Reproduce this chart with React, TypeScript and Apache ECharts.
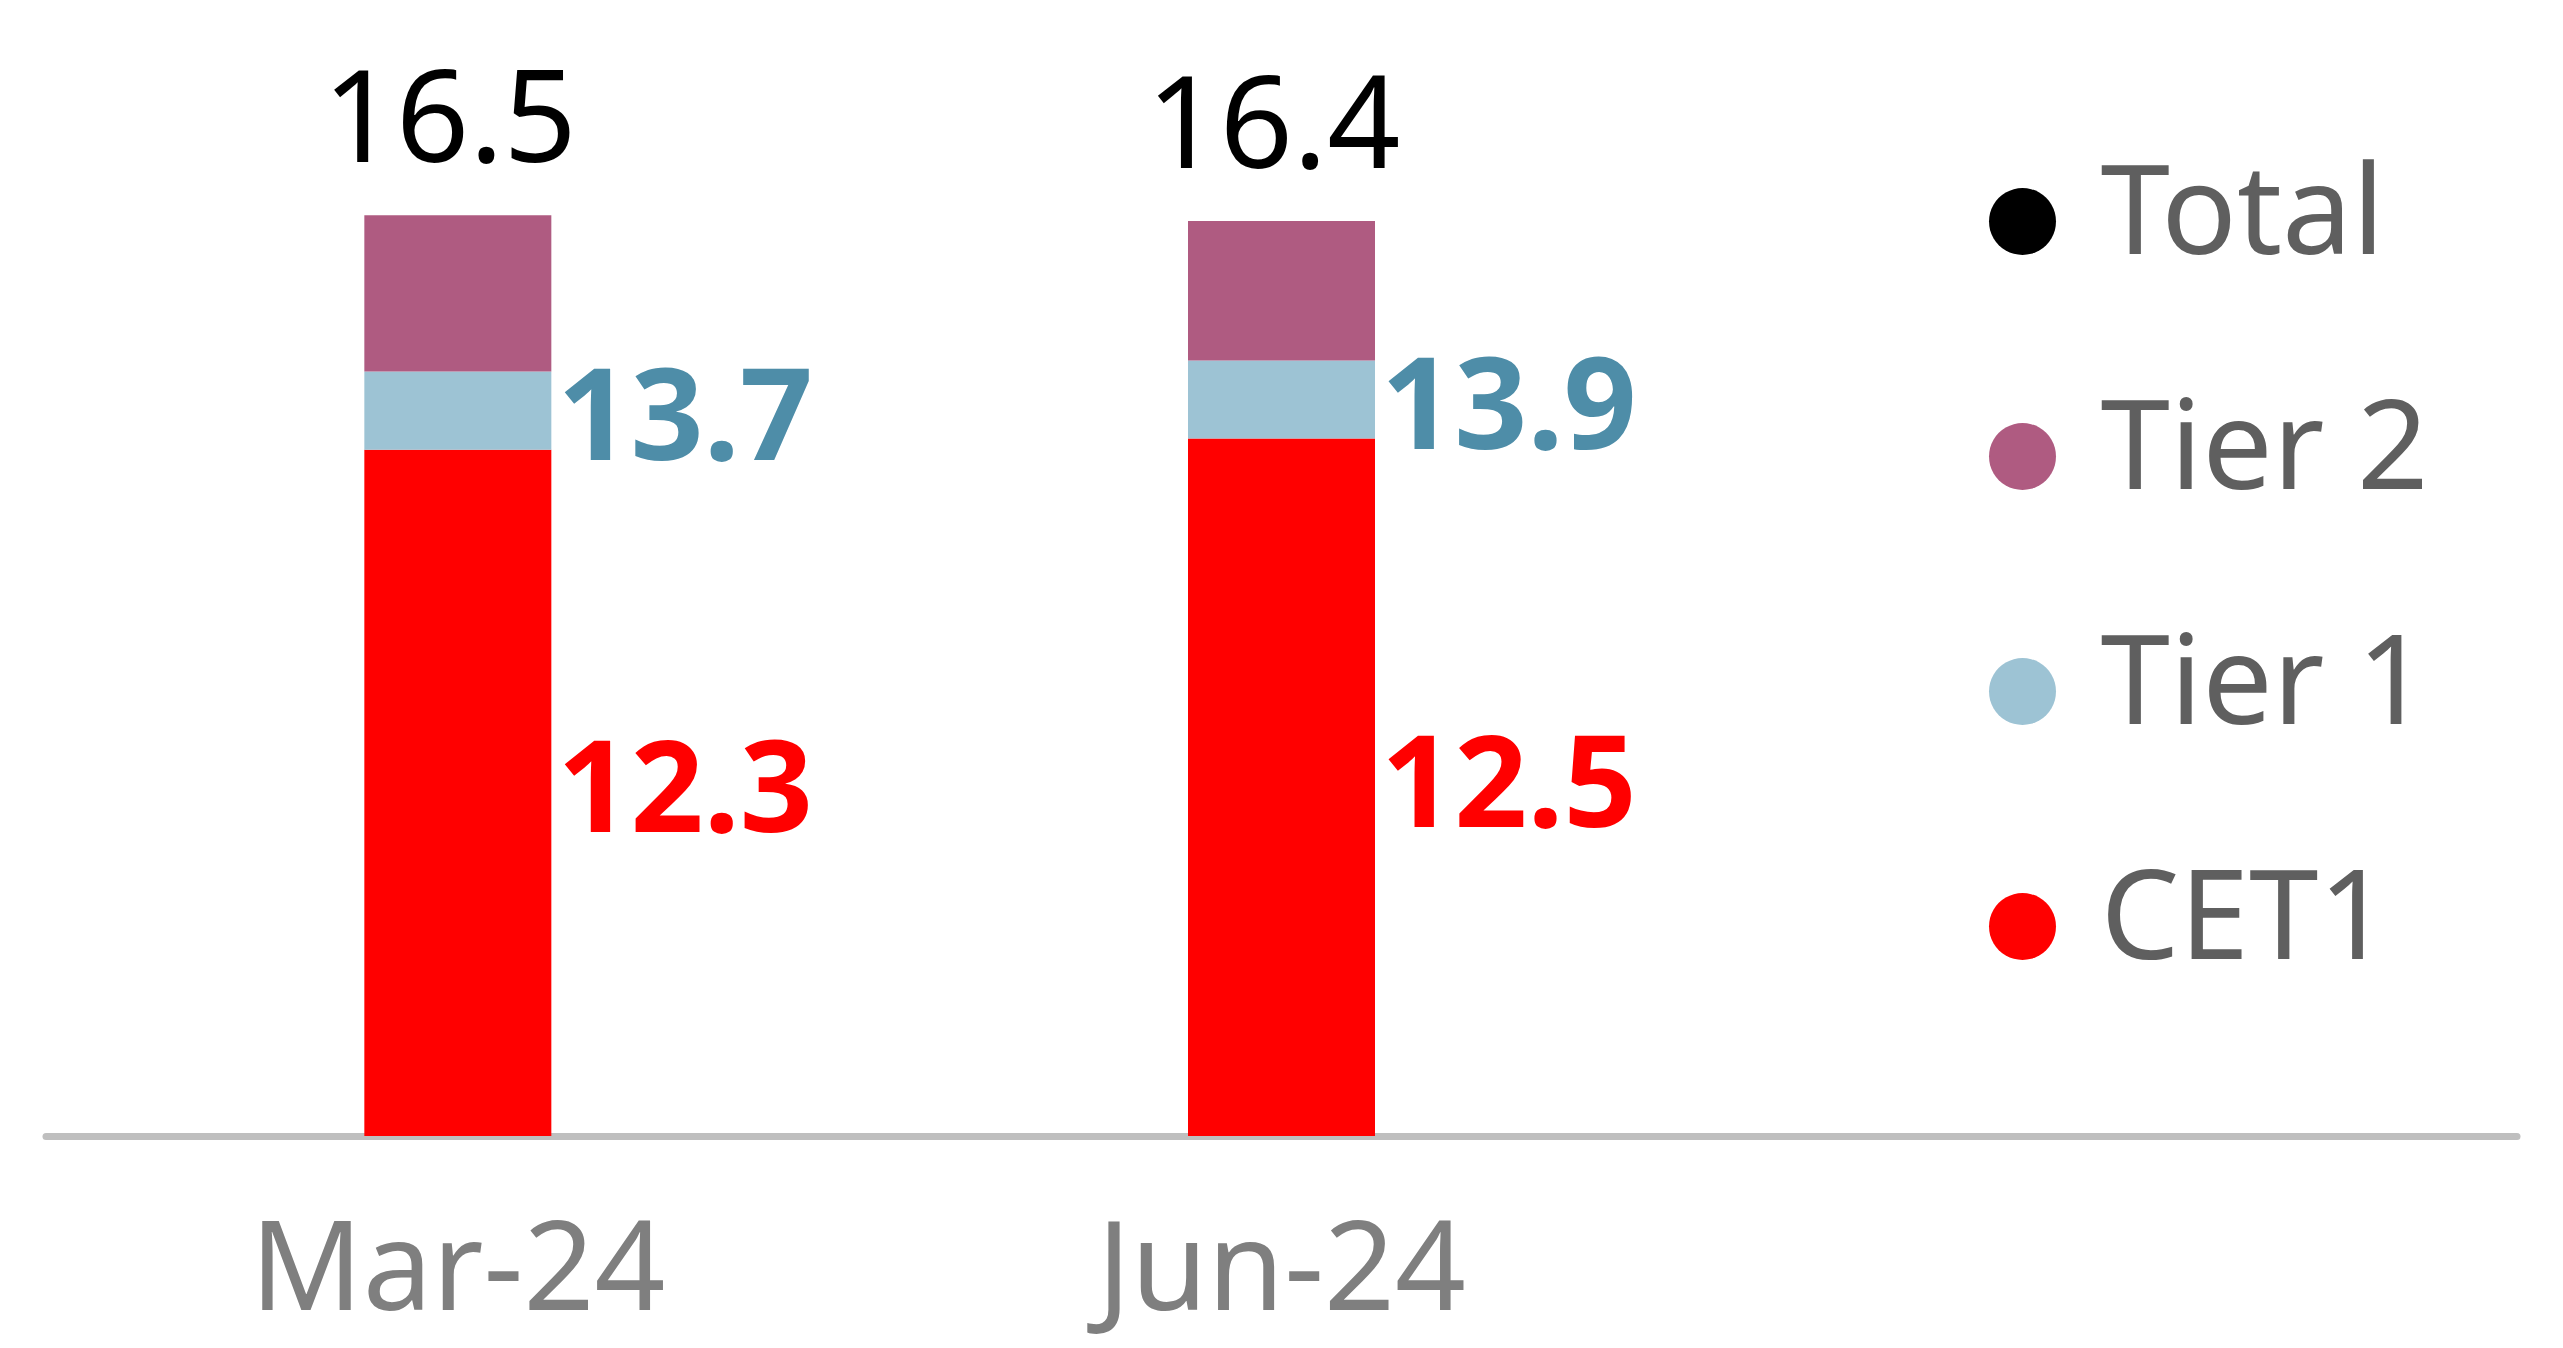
import React, { useEffect, useRef } from "react";
import * as echarts from "echarts";

const categories = ["Mar-24", "Jun-24", ""];
const cet1 = [12.3, 12.5];
const tier1Cum = [13.7, 13.9];
const totalCap = [16.5, 16.4];

const FONT = "Noto Sans";

export default function App() {
  const ref = useRef<HTMLDivElement>(null);
  useEffect(() => {
    if (!ref.current) return;
    const chart = echarts.init(ref.current, null, { renderer: "svg" });
    const tier1Part = tier1Cum.map((v, i) => +(v - cet1[i]).toFixed(2));
    const tier2Part = totalCap.map((v, i) => +(v - tier1Cum[i]).toFixed(2));
    chart.setOption({
      animation: false,
      backgroundColor: "#ffffff",
      grid: { left: 46, right: 46, top: 20, bottom: 212, containLabel: false },
      legend: {
        orient: "vertical",
        left: 1984,
        top: 138,
        icon: "circle",
        itemWidth: 146,
        itemHeight: 67,
        itemGap: 78,
        selectedMode: false,
        data: [
          { name: "Total", itemStyle: { color: "#000000", opacity: 1 } },
          { name: "Tier 2" },
          { name: "Tier 1" },
          { name: "CET1" },
        ],
        formatter: (name: string) => `{t|${name}}`,
        textStyle: {
          fontFamily: FONT,
          fontSize: 125,
          color: "#5F5F5F",
          rich: {
            t: {
              fontFamily: FONT,
              fontSize: 125,
              lineHeight: 125,
              color: "#5F5F5F",
              padding: [0, 0, 32, 0],
            },
          },
        },
      },
      xAxis: {
        type: "category",
        data: categories,
        offset: 3.5,
        axisLine: { show: true, lineStyle: { color: "#BFBFBF", width: 7 } },
        axisTick: { show: false },
        axisLabel: {
          fontFamily: FONT,
          fontSize: 124,
          lineHeight: 100,
          color: "#7F7F7F",
          margin: 72,
        },
      },
      yAxis: {
        type: "value",
        min: 0,
        max: 20,
        show: false,
        splitLine: { show: false },
      },
      series: [
        {
          name: "CET1",
          type: "bar",
          stack: "cap",
          barWidth: 187,
          data: cet1,
          itemStyle: { color: "#FF0000" },
          label: {
            show: true,
            position: "right",
            distance: 6,
            offset: [0, -10],
            fontFamily: FONT,
            fontSize: 128,
            fontWeight: "bold",
            color: "#FF0000",
            formatter: (p: any) => cet1[p.dataIndex].toFixed(1),
          },
        },
        {
          name: "Tier 1",
          type: "bar",
          stack: "cap",
          barWidth: 187,
          data: tier1Part,
          itemStyle: { color: "#9DC3D4" },
          label: {
            show: true,
            position: "right",
            distance: 6,
            fontFamily: FONT,
            fontSize: 128,
            fontWeight: "bold",
            color: "#4E8DA8",
            formatter: (p: any) => tier1Cum[p.dataIndex].toFixed(1),
          },
        },
        {
          name: "Tier 2",
          type: "bar",
          stack: "cap",
          barWidth: 187,
          data: tier2Part,
          itemStyle: { color: "#AF5B81" },
        },
        {
          name: "Total",
          type: "scatter",
          data: totalCap,
          symbolSize: 1,
          itemStyle: { color: "#000000", opacity: 0 },
          label: {
            show: true,
            position: "top",
            distance: 38,
            offset: [-8, 0],
            fontFamily: FONT,
            fontSize: 128,
            color: "#000000",
            opacity: 1,
            formatter: (p: any) => totalCap[p.dataIndex].toFixed(1),
          },
        },
      ],
    });
    return () => chart.dispose();
  }, []);
  return (
    <div
      ref={ref}
      style={{ position: "fixed", left: 0, top: 0, width: 2563, height: 1348 }}
    />
  );
}
